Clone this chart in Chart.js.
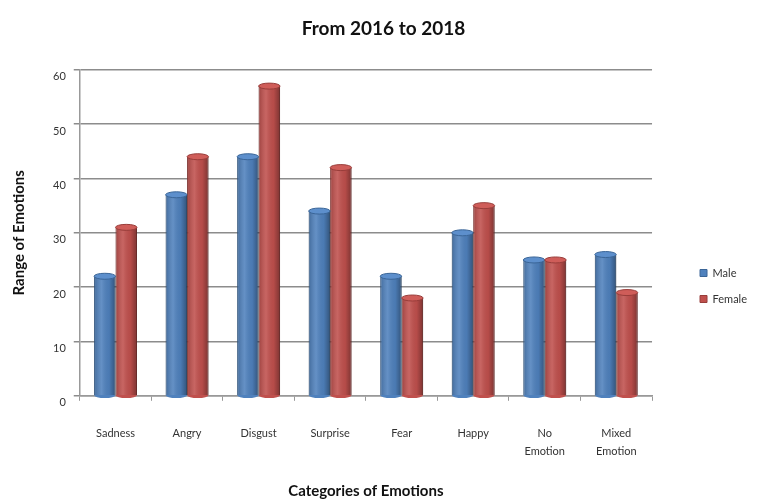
<!DOCTYPE html>
<html>
<head>
<meta charset="utf-8">
<script src="https://cdn.jsdelivr.net/npm/chart.js@4.4.1/dist/chart.umd.min.js"></script>
<style>
  html, body { margin: 0; padding: 0; background: #fff; }
  #wrap { width: 757px; height: 500px; }
</style>
</head>
<body>
<div id="wrap"><canvas id="emotionChart" width="757" height="500"></canvas></div>
<script>
const categories = ["Sadness", "Angry", "Disgust", "Surprise", "Fear", "Happy", ["No", "Emotion"], ["Mixed", "Emotion"]];
const maleValues = [22, 37, 44, 34, 22, 30, 25, 26];
const femaleValues = [31, 44, 57, 42, 18, 35, 25, 19];
const yTicks = [0, 10, 20, 30, 40, 50, 60];

const font = "Lato, 'Open Sans', sans-serif";

// shading + top cap on each bar so it looks a bit like the cylinders
const cylinderShade = {
    id: "cylinderShade",
    afterDatasetsDraw(chart) {
        const ctx = chart.ctx;
        chart.data.datasets.forEach((ds, di) => {
            chart.getDatasetMeta(di).data.forEach((bar) => {
                const p = bar.getProps(["x", "y", "base", "width"], true);
                const l = p.x - p.width / 2;
                const g = ctx.createLinearGradient(l, 0, l + p.width, 0);
                g.addColorStop(0, "rgba(0,0,0,0.18)");
                g.addColorStop(0.35, "rgba(255,255,255,0.12)");
                g.addColorStop(0.7, "rgba(0,0,0,0.05)");
                g.addColorStop(1, "rgba(0,0,0,0.35)");
                ctx.save();
                ctx.fillStyle = g;
                ctx.fillRect(l, p.y, p.width, p.base - p.y);
                // top and bottom of the cylinder
                ctx.fillStyle = ds.backgroundColor;
                ctx.beginPath();
                ctx.ellipse(p.x, p.base, p.width / 2, 3, 0, 0, Math.PI);
                ctx.fill();
                ctx.fillStyle = ds.capColor;
                ctx.strokeStyle = ds.borderColor;
                ctx.lineWidth = 1;
                ctx.beginPath();
                ctx.ellipse(p.x, p.y, p.width / 2, 3, 0, 0, Math.PI * 2);
                ctx.fill();
                ctx.stroke();
                ctx.restore();
            });
        });
    },
};

new Chart(document.getElementById("emotionChart").getContext("2d"), {
    type: "bar",
    data: {
        labels: categories,
        datasets: [
            {
                label: "Male",
                data: maleValues,
                backgroundColor: "#4f81bd",
                borderColor: "#3a6597",
                capColor: "#5d8fcc",
                borderWidth: 1,
            },
            {
                label: "Female",
                data: femaleValues,
                backgroundColor: "#c0504d",
                borderColor: "#983d3a",
                capColor: "#cf5d59",
                borderWidth: 1,
            },
        ],
    },
    options: {
        responsive: false,
        animation: false,
        layout: { padding: { left: 10, right: 0, top: 0, bottom: 0 } },
        datasets: {
            bar: { categoryPercentage: 0.6, barPercentage: 1.0 },
        },
        plugins: {
            title: {
                display: true,
                text: "From 2016 to 2018",
                color: "#111",
                font: { family: font, size: 19, weight: "bold" },
                padding: { top: 17, bottom: 30 },
            },
            legend: {
                position: "right",
                // empty title only pushes the items down a bit
                title: { display: true, text: "", font: { size: 10 }, padding: { top: 60, bottom: 0 } },
                labels: {
                    boxWidth: 7,
                    boxHeight: 7,
                    padding: 15,
                    color: "#333",
                    font: { family: font, size: 11 },
                },
            },
            tooltip: { enabled: false },
        },
        scales: {
            x: {
                grid: {
                    drawOnChartArea: false,
                    drawTicks: true,
                    tickLength: 5,
                    offset: true,
                    color: "#999",
                },
                border: { display: true, color: "#999", width: 1.5 },
                ticks: {
                    color: "#333",
                    font: { family: font, size: 11, lineHeight: 1.6 },
                    padding: 24,
                    maxRotation: 0,
                    autoSkip: false,
                },
                title: {
                    display: true,
                    text: "Categories of Emotions",
                    color: "#111",
                    font: { family: font, size: 15, weight: "bold", lineHeight: 1.0 },
                    padding: { top: 0, bottom: 1 },
                },
            },
            y: {
                min: 0,
                max: 60,
                afterBuildTicks: (scale) => {
                    scale.ticks = yTicks.map((v) => ({ value: v }));
                },
                grid: { color: "#8c8c8c", lineWidth: 1.5, drawTicks: true, tickLength: 6 },
                border: { display: true, color: "#999", width: 1.5 },
                ticks: {
                    color: "#333",
                    font: { family: font, size: 11 },
                    padding: 8,
                    labelOffset: 7,
                },
                title: {
                    display: true,
                    text: "Range of Emotions",
                    color: "#111",
                    font: { family: font, size: 15, weight: "bold" },
                    padding: { top: 0, bottom: 17 },
                },
            },
            gap: {
                position: "right",
                display: true,
                grid: { display: false },
                border: { display: false },
                ticks: { display: false },
                afterFit: (scale) => {
                    scale.width = 33;
                },
            },
        },
    },
    plugins: [cylinderShade],
});
</script>
</body>
</html>
